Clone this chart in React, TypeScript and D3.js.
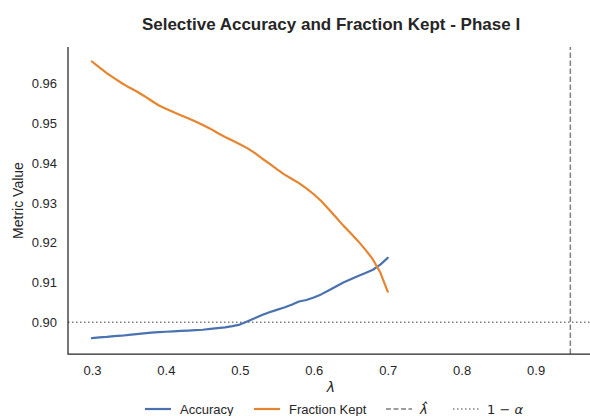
import React, { useEffect, useRef } from "react";
import * as d3 from "d3";

// lambda grid (x values)
const lambdas = [
  0.3, 0.31, 0.32, 0.33, 0.34, 0.35, 0.36, 0.37, 0.38, 0.39, 0.4, 0.41, 0.42,
  0.43, 0.44, 0.45, 0.46, 0.47, 0.48, 0.49, 0.5, 0.51, 0.52, 0.53, 0.54, 0.55,
  0.56, 0.57, 0.58, 0.59, 0.6, 0.61, 0.62, 0.63, 0.64, 0.65, 0.66, 0.67, 0.68,
  0.69, 0.7,
];
const accuracy = [
  0.896, 0.8962, 0.8963, 0.8965, 0.8966, 0.8968, 0.897, 0.8972, 0.8974, 0.8975,
  0.8976, 0.8977, 0.8978, 0.8979, 0.898, 0.8981, 0.8983, 0.8985, 0.8987, 0.899,
  0.8994, 0.9002, 0.901, 0.9018, 0.9025, 0.9031, 0.9037, 0.9044, 0.9052,
  0.9056, 0.9062, 0.907, 0.908, 0.909, 0.91, 0.9108, 0.9116, 0.9124, 0.9132,
  0.9145, 0.9162,
];
const fractionKept = [
  0.9656, 0.9641, 0.9627, 0.9614, 0.9602, 0.9591, 0.9581, 0.957, 0.9558,
  0.9546, 0.9537, 0.9529, 0.9521, 0.9513, 0.9505, 0.9496, 0.9487, 0.9476,
  0.9466, 0.9457, 0.9448, 0.9438, 0.9426, 0.9412, 0.9399, 0.9385, 0.9372,
  0.9361, 0.935, 0.9337, 0.9322, 0.9305, 0.9285, 0.9264, 0.9243, 0.9224,
  0.9204, 0.9182, 0.9158, 0.9125, 0.9077,
];
const lambdaHat = 0.947;
const target = 0.9;
const xTicks = [0.3, 0.4, 0.5, 0.6, 0.7, 0.8, 0.9];
const yTicks = [0.9, 0.91, 0.92, 0.93, 0.94, 0.95, 0.96];

const W = 590;
const H = 416;
const FONT = "Liberation Sans, Arial, sans-serif";
const MATH = "DejaVu Sans, sans-serif";
const BLUE = "#4a72b0";
const ORANGE = "#e6842f";
const GREY = "#7f7f7f";

export default function App() {
  const ref = useRef<SVGSVGElement>(null);

  useEffect(() => {
    const svg = d3.select(ref.current);
    svg.selectAll("*").remove();

    const margin = { top: 47, right: -4, bottom: 62, left: 68 };
    const x = d3
      .scaleLinear()
      .domain([0.2676, 0.979])
      .range([margin.left, W - margin.right]);
    const y = d3
      .scaleLinear()
      .domain([0.892, 0.96925])
      .range([H - margin.bottom, margin.top]);

    const textColor = "#262626";

    // reference lines
    svg
      .append("line")
      .attr("x1", x(lambdaHat))
      .attr("x2", x(lambdaHat))
      .attr("y1", y.range()[0])
      .attr("y2", y.range()[1])
      .attr("stroke", GREY)
      .attr("stroke-width", 1.5)
      .attr("stroke-dasharray", "5.5,2.5");
    svg
      .append("line")
      .attr("x1", x.range()[0])
      .attr("x2", x.range()[1])
      .attr("y1", y(target))
      .attr("y2", y(target))
      .attr("stroke", GREY)
      .attr("stroke-width", 1.5)
      .attr("stroke-dasharray", "1.5,2.5");

    const line = (vals: number[]) =>
      d3
        .line<number>()
        .x((_, i) => x(lambdas[i]))
        .y((d) => y(d))(vals);

    svg
      .append("path")
      .attr("d", line(accuracy))
      .attr("fill", "none")
      .attr("stroke", BLUE)
      .attr("stroke-width", 2.2)
      .attr("stroke-linejoin", "round")
      .attr("stroke-linecap", "round");
    svg
      .append("path")
      .attr("d", line(fractionKept))
      .attr("fill", "none")
      .attr("stroke", ORANGE)
      .attr("stroke-width", 2.2)
      .attr("stroke-linejoin", "round")
      .attr("stroke-linecap", "round");

    // spines
    svg
      .append("path")
      .attr(
        "d",
        `M${x.range()[0]},${y.range()[1]}V${y.range()[0]}H${x.range()[1]}`
      )
      .attr("fill", "none")
      .attr("stroke", "#262626")
      .attr("stroke-width", 1.25);

    // x axis
    const xAxis = svg
      .append("g")
      .attr("transform", `translate(0,${y.range()[0]})`)
      .call(
        d3
          .axisBottom(x)
          .tickValues(xTicks)
          .tickSize(0)
          .tickPadding(12)
          .tickFormat(d3.format(".1f"))
      );
    xAxis.select(".domain").remove();
    xAxis
      .selectAll("text")
      .attr("font-family", FONT)
      .attr("font-size", 13)
      .attr("fill", textColor);

    // y axis
    const yAxis = svg
      .append("g")
      .attr("transform", `translate(${x.range()[0]},0)`)
      .call(
        d3
          .axisLeft(y)
          .tickValues(yTicks)
          .tickSize(0)
          .tickPadding(11)
          .tickFormat(d3.format(".2f"))
      );
    yAxis.select(".domain").remove();
    yAxis
      .selectAll("text")
      .attr("font-family", FONT)
      .attr("font-size", 13)
      .attr("fill", textColor);

    // labels
    svg
      .append("text")
      .attr("x", 331)
      .attr("y", 30)
      .attr("text-anchor", "middle")
      .attr("font-family", FONT)
      .attr("font-weight", "bold")
      .attr("font-size", 17)
      .attr("fill", textColor)
      .text("Selective Accuracy and Fraction Kept - Phase I");

    svg
      .append("text")
      .attr(
        "transform",
        `translate(23,${(y.range()[0] + y.range()[1]) / 2}) rotate(-90)`
      )
      .attr("text-anchor", "middle")
      .attr("font-family", FONT)
      .attr("font-size", 14)
      .attr("fill", textColor)
      .text("Metric Value");

    svg
      .append("text")
      .attr("x", 331)
      .attr("y", 392)
      .attr("text-anchor", "middle")
      .attr("font-family", MATH)
      .attr("font-style", "italic")
      .attr("font-size", 14)
      .attr("fill", textColor)
      .text("λ");

    // legend
    const legendY = 409;
    const items = [
      { x: 145, label: "Accuracy", color: BLUE, dash: null, w: 2.2 },
      { x: 254, label: "Fraction Kept", color: ORANGE, dash: null, w: 2.2 },
      { x: 386, label: "", color: GREY, dash: "5,2.5", w: 1.5 },
      { x: 453, label: "", color: GREY, dash: "1.5,2.5", w: 1.5 },
    ];
    items.forEach((it) => {
      svg
        .append("line")
        .attr("x1", it.x)
        .attr("x2", it.x + 26)
        .attr("y1", legendY)
        .attr("y2", legendY)
        .attr("stroke", it.color)
        .attr("stroke-width", it.w)
        .attr("stroke-dasharray", it.dash);
      if (it.label) {
        svg
          .append("text")
          .attr("x", it.x + 35)
          .attr("y", legendY + 5)
          .attr("font-family", FONT)
          .attr("font-size", 13)
          .attr("fill", textColor)
          .text(it.label);
      }
    });
    svg
      .append("text")
      .attr("x", 420)
      .attr("y", legendY + 5)
      .attr("font-family", MATH)
      .attr("font-style", "italic")
      .attr("font-size", 13)
      .attr("fill", textColor)
      .text("λ\u0302");
    const oneMinus = svg
      .append("text")
      .attr("x", 487)
      .attr("y", legendY + 5)
      .attr("font-family", MATH)
      .attr("font-size", 13)
      .attr("fill", textColor);
    oneMinus.append("tspan").text("1 − ");
    oneMinus.append("tspan").attr("font-style", "italic").text("α");
  }, []);

  return (
    <div
      style={{
        position: "absolute",
        left: 0,
        top: 0,
        width: W,
        height: H,
        background: "#fff",
      }}
    >
      <svg ref={ref} width={W} height={H} style={{ display: "block" }} />
    </div>
  );
}
